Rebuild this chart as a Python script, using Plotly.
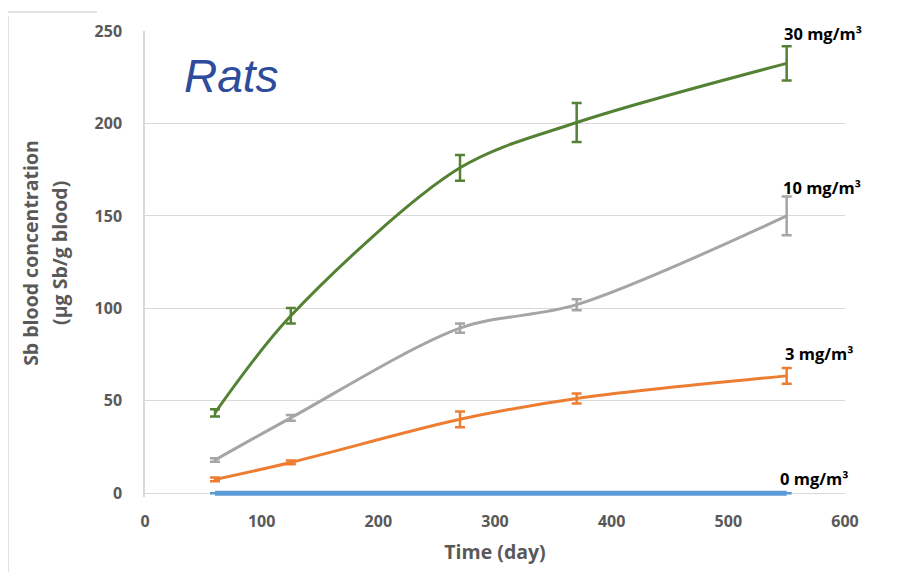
import plotly.graph_objects as go

days = [60, 125, 270, 370, 550]

conc_30 = [43.5, 96, 176, 200.5, 232.5]
err_30 = [2, 4.2, 7, 10.5, 9.3]
conc_10 = [18, 40.8, 89.3, 102, 150]
err_10 = [1, 1.5, 2.5, 3, 10.5]
conc_3 = [7.5, 16.7, 40, 51.3, 63.5]
err_3 = [1, 1, 4.3, 2.7, 4.3]
conc_0 = [0, 0, 0, 0, 0]
err_0 = [0, 0, 0, 0, 0]

series_names = ["30 mg/m³", "10 mg/m³", "3 mg/m³", "0 mg/m³"]
series_vals = [conc_30, conc_10, conc_3, conc_0]
series_errs = [err_30, err_10, err_3, err_0]
colors = ["#548235", "#A5A5A5", "#ED7D31", "#5B9BD5"]
widths = [3, 3, 3, 5]
label_shift = [30, 28, 22, 15]
label_xshift = [-5, -6, -4, -9]
y_title_lines = ["Sb blood concentration", "(µg Sb/g blood)"]

fig = go.Figure()
for name, vals, errs, col, w in zip(series_names[::-1], series_vals[::-1], series_errs[::-1], colors[::-1], widths[::-1]):
    fig.add_trace(go.Scatter(
        x=days, y=vals, name=name, mode="lines",
        line=dict(color=col, width=w, shape="spline", smoothing=0.9),
        error_y=dict(type="data", array=errs, visible=True, color=col, thickness=2.5, width=5),
        showlegend=False,
    ))

for name, vals, ls, xs in zip(series_names, series_vals, label_shift, label_xshift):
    fig.add_annotation(x=days[-1], y=vals[-1], text="<b>" + name + "</b>", showarrow=False,
                       xanchor="left", yanchor="middle", xshift=xs, yshift=ls,
                       font=dict(family="Open Sans", size=16.5, color="#000000"))

fig.add_annotation(x=31.7, y=225.7, text="<i>Rats</i>", showarrow=False, xanchor="left", yanchor="middle",
                   font=dict(family="Liberation Sans", size=46, color="#2F4B9B"))

titlefont = dict(family="Open Sans", size=19.5, color="#595959", weight="bold")
for line, px in zip(y_title_lines, [-0.1629, -0.1214]):
    fig.add_annotation(xref="paper", x=px, yref="y", y=130, text=line, textangle=-90,
                       showarrow=False, xanchor="center", yanchor="middle", font=titlefont)

# outer frame remnants
fig.add_shape(type="line", xref="paper", yref="paper", x0=-0.1957, x1=-0.1957, y0=1.032, y1=-0.2,
              line=dict(color="#D9D9D9", width=1.5))
fig.add_shape(type="line", xref="paper", yref="paper", x0=-0.1957, x1=-0.0686, y0=1.0406, y1=1.0406,
              line=dict(color="#D9D9D9", width=1.5))

tickfont = dict(family="Open Sans", size=16, color="#595959", weight="bold")

fig.update_layout(
    width=882, height=564,
    margin=dict(l=137, r=45, t=17, b=75),
    plot_bgcolor="white", paper_bgcolor="white",
    xaxis=dict(range=[0, 600], dtick=100, showgrid=False, zeroline=False, showline=False,
               tickfont=tickfont, ticks="", ticklabelstandoff=13,
               title=dict(text="Time (day)", font=titlefont, standoff=14)),
    yaxis=dict(range=[-2, 250], dtick=50, showgrid=True, gridcolor="#D9D9D9", gridwidth=1,
               zeroline=False, showline=True, linecolor="#D9D9D9", linewidth=1.5,
               tickfont=tickfont, ticks="", ticklabelstandoff=18),
)

fig.write_html("out.html")
